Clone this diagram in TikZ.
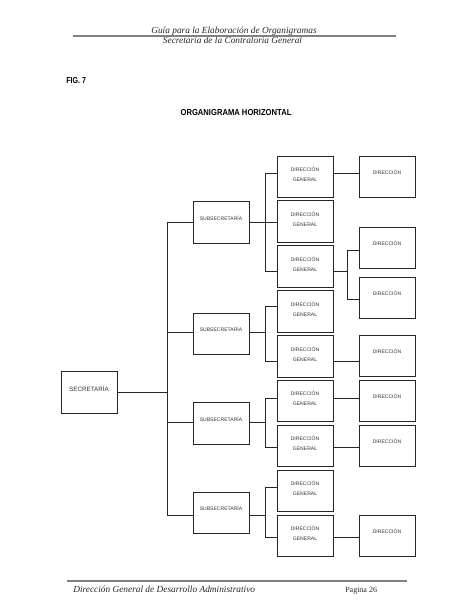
\documentclass[tikz,border=0pt]{standalone}
\usepackage{fontspec}
\setmainfont{Liberation Serif}
\setsansfont{Liberation Sans}
\usetikzlibrary{calc}
\begin{document}
\begin{tikzpicture}[x=0.75pt,y=-0.75pt,
  box/.style={draw=black!85, line width=0.65pt, minimum width=42pt, minimum height=31.1pt, inner sep=0pt},
  lbl/.style={font=\sffamily\fontsize{3.8}{4}\selectfont, text=black!80, inner sep=0pt, anchor=base},
  biglbl/.style={lbl, font=\sffamily\fontsize{4.7}{5}\selectfont},
  conn/.style={draw=black!85, line width=0.65pt},
  rulebar/.style={draw=black!50, line width=1.5pt},
  hdr/.style={font=\itshape\fontsize{7}{8}\selectfont, text=black!85, inner sep=0pt, anchor=base},
  ttl/.style={font=\sffamily\bfseries\fontsize{6.5}{8}\selectfont, inner sep=0pt}]
\useasboundingbox (0,0) rectangle (474,613);

% header
\node[hdr] (h1) at (234,33.3) {Guía para la Elaboración de Organigramas};
\node[hdr] (h2) at (232.5,44) {Secretaría de la Contraloría General};
\draw[rulebar] (73,36) -- (396,36);

\node[ttl, anchor=base west] (fig) at (66,84) {\scalebox{0.82}[1]{FIG. 7}};
\node[ttl, anchor=base] (title) at (236,116) {\scalebox{0.88}[1]{ORGANIGRAMA HORIZONTAL}};

% footer
\draw[rulebar] (67,581) -- (407,581);
\node[hdr, anchor=base west] (f1) at (73,592) {Dirección General de Desarrollo Administrativo};
\node[font=\fontsize{6}{7}\selectfont, inner sep=0pt, anchor=base west, text=black!85] (f2) at (345,592) {Pagina 26};

% secretaria
\node[box, label={[biglbl,yshift=-15.4pt]north:SECRETARÍA}] (sec) at (89,392.5) {};

% subsecretarias
\foreach \n/\y in {1/222.5,2/334,3/423.5,4/513}{
  \node[box, label={[lbl,yshift=-14pt]north:SUBSECRETARÍA}] (s\n) at (221,\y) {};
}

% direcciones generales
\foreach \n in {1,...,9}{
  \node[box, label={[lbl,yshift=-12pt]north:DIRECCIÓN}, label={[lbl,yshift=-19.5pt]north:GENERAL}]
    (g\n) at (305,{156+44.875*(\n-1)+20.75}) {};
}

% direcciones
\foreach \n/\t in {1/156,2/227,3/277,4/335,5/380,6/425,7/515}{
  \node[box, label={[lbl,yshift=-14.2pt]north:DIRECCIÓN}] (d\n) at (387,{\t+20.75}) {};
}

% connection points
\foreach \n/\o in {1/21,2/20,3/20,4/24}{
  \coordinate (sw\n) at ($(s\n.north west)+(0,\o)$);
  \coordinate (se\n) at ($(s\n.north east)+(0,\o)$);
  \coordinate (b\n) at ($(se\n)+(16,0)$);
}
\foreach \n/\o in {1/18,2/22.1,3/26.25,4/16.4,5/26.5,6/18.6,7/22.75,8/17.9,9/23}{
  \coordinate (gw\n) at ($(g\n.north west)+(0,\o)$);
  \coordinate (ge\n) at ($(g\n.north east)+(0,\o)$);
}
\coordinate (dw2) at ($(d2.north west)+(0,24)$);
\coordinate (dw3) at ($(d3.north west)+(0,23)$);

% secretaria -> subsecretarias
\coordinate (t) at ($(sec.east)+(50,0)$);
\draw[conn] (sec.east) -- (t);
\draw[conn] (sw1) -| (t);
\draw[conn] (sw4) -| (t);
\draw[conn] (sw2) -- (sw2 -| t);
\draw[conn] (sw3) -- (sw3 -| t);

% subsecretarias -> direcciones generales
\draw[conn] (se1) -- (se1 -| g2.west);
\draw[conn] (gw1) -| (b1) |- (gw3);
\draw[conn] (se2) -- (b2);
\draw[conn] (gw4) -| (b2) |- (gw5);
\draw[conn] (se3) -- (b3);
\draw[conn] (gw6) -| (b3) |- (gw7);
\draw[conn] (se4) -- (b4);
\draw[conn] (gw8) -| (b4) |- (gw9);

% direcciones generales -> direcciones
\draw[conn] (ge1) -- (ge1 -| d1.west);
\coordinate (b5) at ($(ge3)+(14,0)$);
\draw[conn] (ge3) -- (b5);
\draw[conn] (dw2) -| (b5) |- (dw3);
\draw[conn] (ge5) -- (ge5 -| d4.west);
\draw[conn] (ge6) -- (ge6 -| d5.west);
\draw[conn] (ge7) -- (ge7 -| d6.west);
\draw[conn] (ge9) -- (ge9 -| d7.west);
\end{tikzpicture}
\end{document}
